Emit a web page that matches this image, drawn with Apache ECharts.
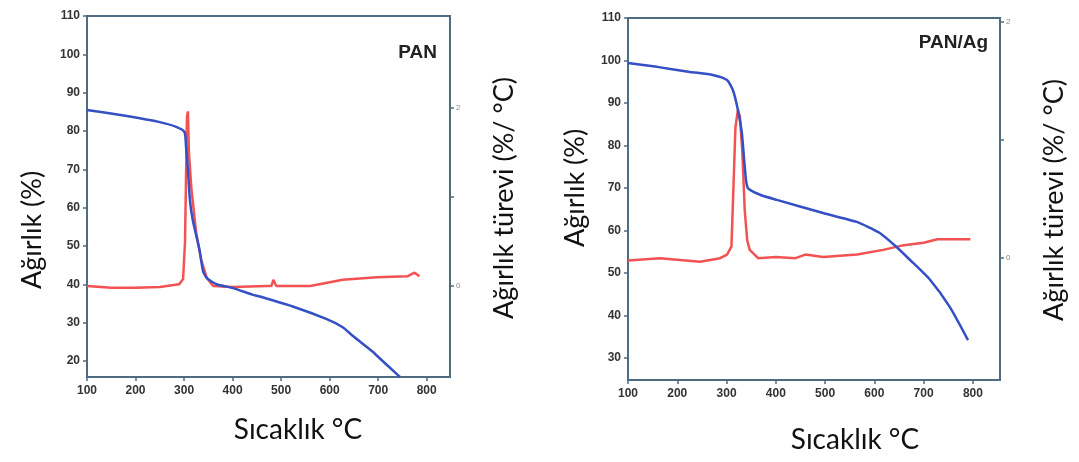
<!DOCTYPE html>
<html>
<head>
<meta charset="utf-8">
<script src="https://cdn.jsdelivr.net/npm/echarts@6/dist/echarts.min.js"></script>
<style>
  html, body { margin: 0; padding: 0; background: #fff; }
  #main { width: 1079px; height: 462px; }
</style>
</head>
<body>
<div id="main"></div>
<script>
// sol grafik: PAN
var panWeightTemp = [100, 182, 250, 285, 301, 304, 308, 312, 318, 332, 339, 347, 367, 401, 441, 456, 524, 594, 627, 648, 689, 697, 738, 745];
var panWeight     = [85.5, 83.9, 82.3, 81.0, 79.7, 76, 70, 62, 56.7, 48.9, 43.5, 41.6, 40.0, 39.0, 37.3, 36.8, 34.2, 30.9, 28.8, 26.5, 22.4, 21.4, 16.6, 15.8];
var panDerivTemp  = [100, 150, 200, 250, 290, 298, 302, 306, 308, 310, 315, 325, 335, 347, 360, 400, 470, 480, 484, 490, 560, 627, 697, 760, 775, 785];
var panDeriv      = [0.0, -0.02, -0.02, -0.01, 0.02, 0.08, 0.5, 1.9, 1.96, 1.5, 1.1, 0.6, 0.3, 0.09, 0.0, -0.01, 0.0, 0.0, 0.07, 0.0, 0.0, 0.07, 0.1, 0.11, 0.15, 0.11];

// sag grafik: PAN/Ag
var agWeightTemp = [100, 159, 226, 272, 301, 313, 323, 331, 337, 343, 368, 402, 496, 564, 611, 645, 672, 713, 753, 790];
var agWeight     = [99.4, 98.5, 97.3, 96.6, 95.4, 93, 88.4, 83, 75, 70, 68.4, 67.2, 64.1, 62, 59.4, 56.1, 53.1, 48.4, 42, 34.2];
var agDerivTemp  = [100, 165, 246, 287, 301, 310, 314, 318, 323, 327, 332, 337, 342, 347, 364, 400, 440, 460, 496, 565, 618, 660, 700, 728, 795];
var agDeriv      = [-0.02, 0.0, -0.03, 0.0, 0.03, 0.1, 0.6, 1.1, 1.25, 1.2, 0.9, 0.4, 0.15, 0.07, 0.0, 0.01, 0.0, 0.03, 0.01, 0.03, 0.07, 0.11, 0.13, 0.16, 0.16];

var xTicks = [100, 200, 300, 400, 500, 600, 700, 800];
var yTicksPan = [20, 30, 40, 50, 60, 70, 80, 90, 100, 110];
var yTicksAg = [30, 40, 50, 60, 70, 80, 90, 100, 110];

function pairs(xs, ys) {
  return xs.map(function (x, i) { return [x, ys[i]]; });
}

var axisColor = '#4f6b82';
var labelStyle = { color: '#333', fontFamily: 'Liberation Sans', fontWeight: 'bold', fontSize: 12 };
var titleFont = 'Lato';

function xAxisOf(grid, max) {
  return {
    type: 'value', gridIndex: grid, min: 100, max: max,
    axisLine: { onZero: false, lineStyle: { color: axisColor, width: 2 } },
    axisTick: { customValues: xTicks, length: 4, lineStyle: { color: axisColor, width: 1.5 } },
    axisLabel: Object.assign({ customValues: xTicks, margin: 8 }, labelStyle),
    splitLine: { show: false }
  };
}

function yLeftOf(grid, min, ticks) {
  return {
    type: 'value', gridIndex: grid, position: 'left', min: min, max: 110,
    axisLine: { show: true, onZero: false, lineStyle: { color: axisColor, width: 2 } },
    axisTick: { show: true, customValues: ticks, length: 4, lineStyle: { color: axisColor, width: 1.5 } },
    axisLabel: Object.assign({ customValues: ticks, margin: 7 }, labelStyle),
    splitLine: { show: false }
  };
}

function yRightOf(grid, min, max) {
  return {
    type: 'value', gridIndex: grid, position: 'right', min: min, max: max,
    axisLine: { show: true, onZero: false, lineStyle: { color: axisColor, width: 2 } },
    axisTick: { show: true, customValues: [0, 1, 2], length: 4, lineStyle: { color: axisColor, width: 1.5 } },
    axisLabel: { customValues: [0, 2], margin: 6, color: '#888', fontSize: 8, fontFamily: 'Liberation Sans' },
    splitLine: { show: false }
  };
}

var chart = echarts.init(document.getElementById('main'));

var option = {
  backgroundColor: '#fff',
  animation: false,
  grid: [
    { left: 87, top: 16, width: 363, height: 361, show: true, borderColor: axisColor, borderWidth: 2 },
    { left: 628, top: 18, width: 372, height: 362, show: true, borderColor: axisColor, borderWidth: 2 }
  ],
  xAxis: [xAxisOf(0, 848), xAxisOf(1, 855)],
  yAxis: [
    yLeftOf(0, 15.8, yTicksPan),
    yRightOf(0, -1.02, 3.03),
    yLeftOf(1, 24.8, yTicksAg),
    yRightOf(1, -1.03, 2.03)
  ],
  series: [
    {
      name: 'PAN türev', type: 'line', xAxisIndex: 0, yAxisIndex: 1,
      data: pairs(panDerivTemp, panDeriv), showSymbol: false,
      lineStyle: { color: '#f25252', width: 2.5 }
    },
    {
      name: 'PAN', type: 'line', xAxisIndex: 0, yAxisIndex: 0,
      data: pairs(panWeightTemp, panWeight), showSymbol: false, smooth: 0.2,
      lineStyle: { color: '#3450c4', width: 2.5 }
    },
    {
      name: 'PAN/Ag türev', type: 'line', xAxisIndex: 1, yAxisIndex: 3,
      data: pairs(agDerivTemp, agDeriv), showSymbol: false,
      lineStyle: { color: '#f25252', width: 2.5 }
    },
    {
      name: 'PAN/Ag', type: 'line', xAxisIndex: 1, yAxisIndex: 2,
      data: pairs(agWeightTemp, agWeight), showSymbol: false, smooth: 0.2,
      lineStyle: { color: '#3450c4', width: 2.5 }
    }
  ],
  graphic: [
    { type: 'text', x: 437, y: 53, style: { text: 'PAN', font: 'bold 19px "Liberation Sans"', fill: '#222', align: 'right', verticalAlign: 'middle' } },
    { type: 'text', x: 988, y: 43, style: { text: 'PAN/Ag', font: 'bold 19px "Liberation Sans"', fill: '#222', align: 'right', verticalAlign: 'middle' } },

    { type: 'text', x: 32, y: 230, rotation: Math.PI / 2, style: { text: 'Ağırlık (%)', font: '27px ' + titleFont, fill: '#111', align: 'center', verticalAlign: 'middle' } },
    { type: 'text', x: 504, y: 198, rotation: Math.PI / 2, style: { text: 'Ağırlık türevi (%/ °C)', font: '27px ' + titleFont, fill: '#111', align: 'center', verticalAlign: 'middle' } },
    { type: 'text', x: 298, y: 430, style: { text: 'Sıcaklık °C', font: '28px ' + titleFont, fill: '#111', align: 'center', verticalAlign: 'middle' } },

    { type: 'text', x: 575, y: 188, rotation: Math.PI / 2, style: { text: 'Ağırlık (%)', font: '27px ' + titleFont, fill: '#111', align: 'center', verticalAlign: 'middle' } },
    { type: 'text', x: 1054, y: 200, rotation: Math.PI / 2, style: { text: 'Ağırlık türevi (%/ °C)', font: '27px ' + titleFont, fill: '#111', align: 'center', verticalAlign: 'middle' } },
    { type: 'text', x: 855, y: 440, style: { text: 'Sıcaklık °C', font: '28px ' + titleFont, fill: '#111', align: 'center', verticalAlign: 'middle' } }
  ]
};

chart.setOption(option);
</script>
</body>
</html>
